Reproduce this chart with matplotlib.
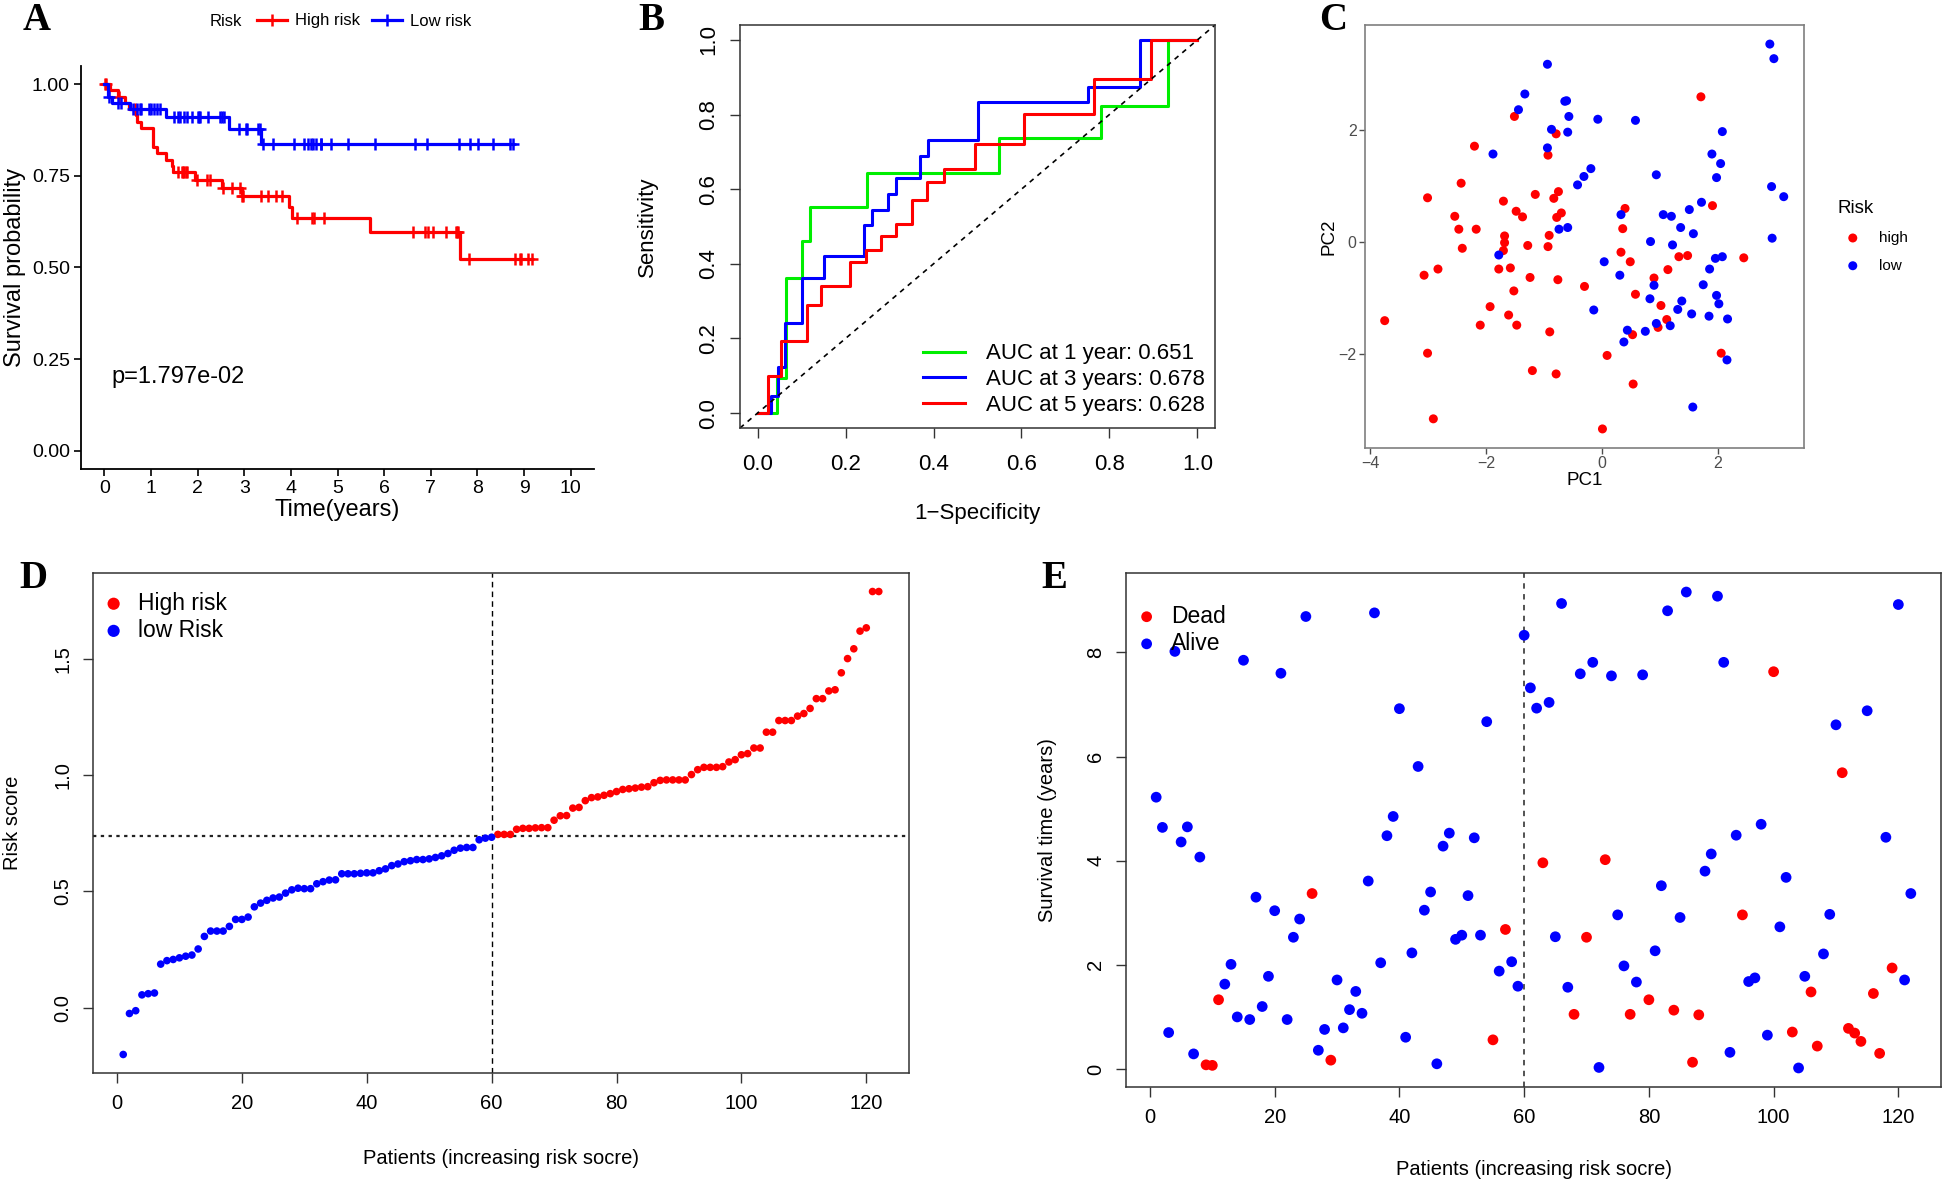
import numpy as np
import matplotlib
matplotlib.use("Agg")
import matplotlib.pyplot as plt
from matplotlib.lines import Line2D

plt.rcParams['font.family'] = ['Liberation Sans', 'DejaVu Sans']
plt.rcParams['axes.unicode_minus'] = True

# ---------------- data ----------------
# Panel D: risk score of each patient (sorted, increasing)
risk_score = [
    -0.200, -0.024, -0.012, 0.056, 0.061, 0.064, 0.188, 0.203, 0.208, 0.215,
    0.222, 0.227, 0.253, 0.307, 0.330, 0.330, 0.330, 0.350, 0.380, 0.380,
    0.390, 0.434, 0.450, 0.462, 0.472, 0.476, 0.493, 0.507, 0.514, 0.512,
    0.512, 0.533, 0.542, 0.549, 0.550, 0.576, 0.576, 0.576, 0.578, 0.580,
    0.580, 0.589, 0.597, 0.611, 0.618, 0.628, 0.632, 0.637, 0.637, 0.640,
    0.646, 0.653, 0.663, 0.677, 0.686, 0.689, 0.689, 0.722, 0.729, 0.733,
    0.745, 0.745, 0.745, 0.767, 0.771, 0.771, 0.773, 0.774, 0.774, 0.806,
    0.825, 0.826, 0.858, 0.861, 0.890, 0.903, 0.906, 0.913, 0.920, 0.929,
    0.938, 0.941, 0.944, 0.948, 0.950, 0.967, 0.977, 0.979, 0.979, 0.979,
    0.979, 1.002, 1.023, 1.033, 1.033, 1.033, 1.036, 1.056, 1.066, 1.087,
    1.092, 1.116, 1.116, 1.184, 1.184, 1.234, 1.234, 1.234, 1.253, 1.264,
    1.286, 1.328, 1.328, 1.361, 1.366, 1.439, 1.500, 1.542, 1.618, 1.632,
    1.788, 1.788]
risk_cutoff = 0.739
n_low_risk = 60

# Panel E: survival time (years) of each patient, same order
surv_time = [
    5.22, 4.64, 0.70, 8.02, 4.36, 4.65, 0.29, 4.07, 0.08, 0.07,
    1.33, 1.63, 2.01, 1.00, 7.85, 0.95, 3.30, 1.20, 1.78, 3.04,
    7.60, 0.95, 2.53, 2.88, 8.69, 3.37, 0.36, 0.76, 0.17, 1.71,
    0.79, 1.14, 1.49, 1.07, 3.61, 8.76, 2.04, 4.48, 4.85, 6.92,
    0.61, 2.23, 5.81, 3.05, 3.40, 0.10, 4.28, 4.53, 2.49, 2.57,
    3.33, 4.44, 2.57, 6.67, 0.56, 1.88, 2.68, 2.06, 1.59, 8.33,
    7.32, 6.93, 3.96, 7.04, 2.54, 8.94, 1.57, 1.05, 7.59, 2.53,
    7.81, 0.03, 4.02, 7.55, 2.96, 1.98, 1.05, 1.67, 7.57, 1.33,
    2.27, 3.52, 8.80, 1.13, 2.91, 9.16, 0.13, 1.04, 3.80, 4.13,
    9.08, 7.81, 0.32, 4.49, 2.96, 1.68, 1.75, 4.70, 0.65, 7.63,
    2.73, 3.68, 0.71, 0.02, 1.78, 1.48, 0.44, 2.21, 2.97, 6.61,
    5.69, 0.78, 0.69, 0.53, 6.88, 1.45, 0.30, 4.45, 1.94, 8.92,
    1.71, 3.37]
dead_patients = [9, 10, 11, 26, 29, 55, 57, 63, 68, 70, 73, 77, 80, 84, 87,
                 88, 95, 100, 103, 106, 107, 111, 112, 113, 114, 116, 117, 119]

p_value_text = "p=1.797e-02"

# Panel B: time-dependent ROC curves (1 - specificity, sensitivity)
fpr_1y = [0.0, 0.043, 0.043, 0.065, 0.065, 0.10, 0.10, 0.12, 0.12, 0.248, 0.248,
          0.55, 0.55, 0.78, 0.78, 0.932, 0.932, 1.0]
tpr_1y = [0.0, 0.0, 0.093, 0.093, 0.362, 0.362, 0.46, 0.46, 0.553, 0.553, 0.643,
          0.643, 0.738, 0.738, 0.822, 0.822, 1.0, 1.0]
fpr_3y = [0.0, 0.03, 0.03, 0.046, 0.046, 0.063, 0.063, 0.10, 0.10, 0.152, 0.152,
          0.242, 0.242, 0.26, 0.26, 0.297, 0.297, 0.314, 0.314, 0.37, 0.37,
          0.387, 0.387, 0.50, 0.50, 0.752, 0.752, 0.87, 0.87, 1.0]
tpr_3y = [0.0, 0.0, 0.046, 0.046, 0.123, 0.123, 0.242, 0.242, 0.362, 0.362, 0.42,
          0.42, 0.503, 0.503, 0.544, 0.544, 0.588, 0.588, 0.63, 0.63, 0.69,
          0.69, 0.732, 0.732, 0.834, 0.834, 0.875, 0.875, 1.0, 1.0]
fpr_5y = [0.0, 0.024, 0.024, 0.054, 0.054, 0.113, 0.113, 0.145, 0.145, 0.211, 0.211,
          0.247, 0.247, 0.28, 0.28, 0.314, 0.314, 0.35, 0.35, 0.385, 0.385,
          0.423, 0.423, 0.495, 0.495, 0.606, 0.606, 0.766, 0.766, 0.894, 0.894, 1.0]
tpr_5y = [0.0, 0.0, 0.10, 0.10, 0.193, 0.193, 0.289, 0.289, 0.34, 0.34, 0.406,
          0.406, 0.436, 0.436, 0.474, 0.474, 0.506, 0.506, 0.572, 0.572, 0.62,
          0.62, 0.654, 0.654, 0.72, 0.72, 0.802, 0.802, 0.896, 0.896, 1.0, 1.0]
auc_labels = ["AUC at 1 year: 0.651", "AUC at 3 years: 0.678", "AUC at 5 years: 0.628"]

# Panel C: PCA
pc1_high = [-3.75, -3.01, -3.07, -3.01, -2.91, -2.83, -2.54, -2.47, -2.43, -2.41,
            -2.20, -2.17, -2.10, -1.93, -1.78, -1.70, -1.70, -1.68, -1.68, -1.61,
            -1.58, -1.52, -1.51, -1.48, -1.47, -1.37, -1.28, -1.24, -1.20, -1.15,
            -0.93, -0.93, -0.91, -0.90, -0.83, -0.79, -0.79, -0.78, -0.76, -0.75,
            -0.70, -0.30, 0.01, 0.09, 0.33, 0.36, 0.40, 0.49, 0.53, 0.54,
            0.58, 0.90, 0.97, 1.02, 1.12, 1.14, 1.33, 1.48, 1.71, 1.91,
            2.06, 2.45]
pc2_high = [-1.40, 0.79, -0.59, -1.98, -3.15, -0.48, 0.46, 0.23, 1.05, -0.11,
            1.71, 0.23, -1.48, -1.15, -0.48, -0.15, 0.73, 0.11, -0.01, -1.30,
            -0.46, -0.87, 2.24, 0.55, -1.48, 0.45, -0.06, -0.63, -2.29, 0.85,
            1.55, -0.08, 0.12, -1.60, 0.78, 1.93, -2.35, 0.44, -0.67, 0.90,
            0.52, -0.79, -3.33, -2.02, -0.18, 0.24, 0.60, -0.35, -1.65, -2.53,
            -0.93, -0.64, -1.52, -1.13, -1.38, -0.49, -0.26, -0.24, 2.59, 0.65,
            -1.98, -0.28]
pc1_low = [-0.94, -1.33, -1.44, -0.64, -0.61, -0.57, -0.07, 0.58, -0.87, -0.59,
           -0.94, -1.88, -0.19, -0.31, -0.42, 0.94, 2.08, 1.90, 2.05, 1.98,
           2.90, 2.97, 2.93, 3.14, 2.94, 1.72, 1.51, 1.06, 1.20, 0.33,
           1.36, 1.58, -0.74, -0.59, 0.84, 1.22, -1.78, 0.04, 1.96, 2.08,
           0.31, 1.86, 0.90, 1.75, 0.83, 1.38, 1.98, 2.02, -0.14, 1.31,
           1.55, 1.85, 2.17, 0.94, 1.18, 0.44, 0.75, 0.38, 2.16, 1.57]
pc2_low = [3.17, 2.64, 2.36, 2.51, 2.52, 2.24, 2.19, 2.17, 2.01, 1.96,
           1.68, 1.57, 1.31, 1.17, 1.02, 1.20, 1.97, 1.57, 1.40, 1.15,
           3.53, 3.27, 0.99, 0.81, 0.07, 0.71, 0.58, 0.49, 0.46, 0.49,
           0.26, 0.15, 0.23, 0.26, 0.01, -0.05, -0.23, -0.35, -0.29, -0.26,
           -0.59, -0.48, -0.77, -0.76, -1.01, -1.05, -0.95, -1.10, -1.21, -1.20,
           -1.28, -1.32, -1.37, -1.45, -1.49, -1.57, -1.59, -1.78, -2.10, -2.94]

RED = "#FF0000"
BLUE = "#0000FF"
GREEN = "#00EE00"

# ---------------- helpers ----------------
W, H = 1944, 1184
fig = plt.figure(figsize=(W / 100, H / 100), dpi=100)


def rect(l, t, r, b):
    return [l / W, 1 - b / H, (r - l) / W, (b - t) / H]


def kaplan_meier(times, events):
    order = np.argsort(times, kind="stable")
    t = np.asarray(times, float)[order]
    e = np.asarray(events, bool)[order]
    n = len(t)
    s = 1.0
    xs, ys, ct, cs = [0.0], [1.0], [], []
    at_risk = n
    i = 0
    while i < n:
        tt = t[i]
        j = i
        d = c = 0
        while j < n and t[j] == tt:
            if e[j]:
                d += 1
            else:
                c += 1
            j += 1
        if d:
            s *= (at_risk - d) / at_risk
            xs.append(tt)
            ys.append(s)
        if c:
            ct.append(tt)
            cs.append(s)
        at_risk -= d + c
        i = j
    xs.append(t[-1])
    ys.append(s)
    return xs, ys, ct, cs


def letter(x, y, s):
    fig.text(x / W, 1 - y / H, s, family="Liberation Serif", weight="bold",
             fontsize=28, ha="center", va="center")


def r_style(ax, fs):
    for sp in ax.spines.values():
        sp.set_linewidth(1.1)
        sp.set_color("#333333")
    ax.tick_params(direction="out", length=7, width=1.0, pad=8, labelsize=fs,
                   color="#333333")
    plt.setp(ax.get_yticklabels(), rotation=90, va="center")


patients = np.arange(1, len(risk_score) + 1)
status = np.array([1 if p in dead_patients else 0 for p in patients])
high_mask = patients > n_low_risk
low_mask = ~high_mask

# ---------------- Panel A ----------------
axA = fig.add_axes(rect(81, 66, 594, 469))
tt = np.array(surv_time)
for mask, col in [(high_mask, RED), (low_mask, BLUE)]:
    xs, ys, ct, cs = kaplan_meier(tt[mask], status[mask])
    axA.step(xs, ys, where="post", color=col, lw=2.3)
    axA.plot(ct, cs, ls="none", marker="+", ms=9, mew=1.8, color=col)
axA.set_xlim(-0.5, 10.5)
axA.set_ylim(-0.05, 1.05)
axA.set_xticks(range(0, 11))
axA.set_yticks([0, 0.25, 0.5, 0.75, 1.0])
axA.set_yticklabels(["0.00", "0.25", "0.50", "0.75", "1.00"])
for sp in ["top", "right"]:
    axA.spines[sp].set_visible(False)
for sp in ["left", "bottom"]:
    axA.spines[sp].set_linewidth(1.3)
axA.tick_params(direction="out", length=5, width=1.2, labelsize=14, pad=3)
axA.set_xlabel("Time(years)", fontsize=17, va="center")
axA.xaxis.set_label_coords(0.5, -0.102)
axA.set_ylabel("Survival probability", fontsize=17, va="center")
axA.yaxis.set_label_coords(-0.128, 0.5)
axA.text(0.15, 0.2, p_value_text, fontsize=17, ha="left", va="center")
hA = [Line2D([], [], color=RED, lw=2.3, marker="+", ms=9, mew=1.8),
      Line2D([], [], color=BLUE, lw=2.3, marker="+", ms=9, mew=1.8)]
fig.legend(hA, ["High risk", "Low risk"], loc="center left",
           bbox_to_anchor=(242 / W, 1 - 21 / H), ncol=2, frameon=False,
           fontsize=12, handlelength=1.8, handletextpad=0.5, columnspacing=0.7)
fig.text(210 / W, 1 - 21 / H, "Risk", fontsize=12, ha="left", va="center")

# ---------------- Panel B ----------------
axB = fig.add_axes(rect(740, 25, 1215, 428))
axB.plot(fpr_1y, tpr_1y, color=GREEN, lw=2.2, label=auc_labels[0])
axB.plot(fpr_3y, tpr_3y, color=BLUE, lw=2.2, label=auc_labels[1])
axB.plot(fpr_5y, tpr_5y, color=RED, lw=2.2, label=auc_labels[2])
axB.plot([-0.04, 1.04], [-0.04, 1.04], ls=(0, (3, 3)), color="black", lw=1.2)
axB.set_xlim(-0.04, 1.04)
axB.set_ylim(-0.04, 1.04)
ticks = [0, 0.2, 0.4, 0.6, 0.8, 1.0]
axB.set_xticks(ticks)
axB.set_yticks(ticks)
axB.set_xticklabels([f"{v:.1f}" for v in ticks])
axB.set_yticklabels([f"{v:.1f}" for v in ticks])
r_style(axB, 16)
axB.tick_params(axis="x", pad=12)
axB.set_xlabel("1\u2212Specificity", fontsize=16, va="center")
axB.xaxis.set_label_coords(0.5, -0.211)
axB.set_ylabel("Sensitivity", fontsize=16, va="center")
axB.yaxis.set_label_coords(-0.194, 0.5)
axB.legend(loc="lower right", bbox_to_anchor=(1.02, -0.02), frameon=False,
           fontsize=16, handlelength=1.85, handletextpad=0.95, labelspacing=0.22)

# ---------------- Panel C ----------------
axC = fig.add_axes(rect(1365, 25, 1804, 448))
axC.scatter(pc1_high, pc2_high, s=42, color=RED, edgecolors="none", label="high")
axC.scatter(pc1_low, pc2_low, s=42, color=BLUE, edgecolors="none", label="low")
axC.set_xlim(-4.09, 3.49)
axC.set_ylim(-3.67, 3.87)
axC.set_xticks([-4, -2, 0, 2])
axC.set_yticks([-2, 0, 2])
for sp in axC.spines.values():
    sp.set_color("#7f7f7f")
    sp.set_linewidth(1.2)
axC.tick_params(direction="out", length=4, width=1.0, color="#4d4d4d",
                labelcolor="#4d4d4d", labelsize=11.5, pad=2)
axC.set_xlabel("PC1", fontsize=13.5, va="center")
axC.xaxis.set_label_coords(0.5, -0.078)
axC.set_ylabel("PC2", fontsize=13.5, va="center")
axC.yaxis.set_label_coords(-0.082, 0.5)
legC = axC.legend(title="Risk", loc="center left", bbox_to_anchor=(1.045, 0.50),
                  frameon=False, fontsize=11, title_fontsize=13.5,
                  handletextpad=0.7, labelspacing=0.9, markerscale=1.0)
legC._legend_box.align = "left"

# ---------------- Panel D ----------------
axD = fig.add_axes(rect(93, 573, 909, 1073))
rs = np.array(risk_score)
axD.scatter(patients[high_mask], rs[high_mask], s=30, color=RED,
            edgecolors="none", label="High risk", zorder=3)
axD.scatter(patients[low_mask], rs[low_mask], s=30, color=BLUE,
            edgecolors="none", label="low Risk", zorder=3)
axD.axvline(n_low_risk, color="black", ls=(0, (4, 3)), lw=1.0)
axD.axhline(risk_cutoff, color="#222222", ls=(0, (1.5, 2)), lw=1.6)
n = len(risk_score)
axD.set_xlim(1 - 0.04 * (n - 1), n + 0.04 * (n - 1))
rr = rs.max() - rs.min()
axD.set_ylim(rs.min() - 0.04 * rr, rs.max() + 0.04 * rr)
axD.set_xticks(range(0, 121, 20))
axD.set_yticks([0, 0.5, 1.0, 1.5])
axD.set_yticklabels(["0.0", "0.5", "1.0", "1.5"])
r_style(axD, 14.5)
axD.set_xlabel("Patients (increasing risk socre)", fontsize=14.5, va="center")
axD.xaxis.set_label_coords(0.5, -0.172)
axD.set_ylabel("Risk score", fontsize=14.5, va="center")
axD.yaxis.set_label_coords(-0.099, 0.5)
axD.legend(loc="upper left", bbox_to_anchor=(0.0, 0.99), frameon=False,
           fontsize=16.5, handletextpad=0.75, handlelength=0.6, labelspacing=0.18,
           markerscale=1.6, borderaxespad=0.2)

# ---------------- Panel E ----------------
axE = fig.add_axes(rect(1126, 573, 1941, 1087))
st = np.array(surv_time)
dmask = status == 1
axE.scatter(patients[dmask], st[dmask], s=60, color=RED, edgecolors="none",
            label="Dead", zorder=3)
axE.scatter(patients[~dmask], st[~dmask], s=60, color=BLUE, edgecolors="none",
            label="Alive", zorder=3)
axE.axvline(n_low_risk, color="#444444", ls=(0, (3, 3)), lw=1.3)
axE.set_xlim(1 - 0.04 * (n - 1), n + 0.04 * (n - 1))
sr = st.max() - st.min()
axE.set_ylim(st.min() - 0.04 * sr, st.max() + 0.04 * sr)
axE.set_xticks(range(0, 121, 20))
axE.set_yticks([0, 2, 4, 6, 8])
r_style(axE, 14.5)
axE.set_xlabel("Patients (increasing risk socre)", fontsize=14.5, va="center")
axE.xaxis.set_label_coords(0.5, -0.160)
axE.set_ylabel("Survival time (years)", fontsize=14.5, va="center")
axE.yaxis.set_label_coords(-0.096, 0.5)
axE.legend(loc="upper left", bbox_to_anchor=(0.0, 0.965), frameon=False,
           fontsize=16.5, handletextpad=0.75, handlelength=0.6, labelspacing=0.18,
           markerscale=1.0, borderaxespad=0.2)

# panel letters
letter(37, 21, "A")
letter(651, 21, "B")
letter(1333, 21, "C")
letter(33, 579, "D")
letter(1054, 579, "E")

fig.savefig("out.png", dpi=100)
